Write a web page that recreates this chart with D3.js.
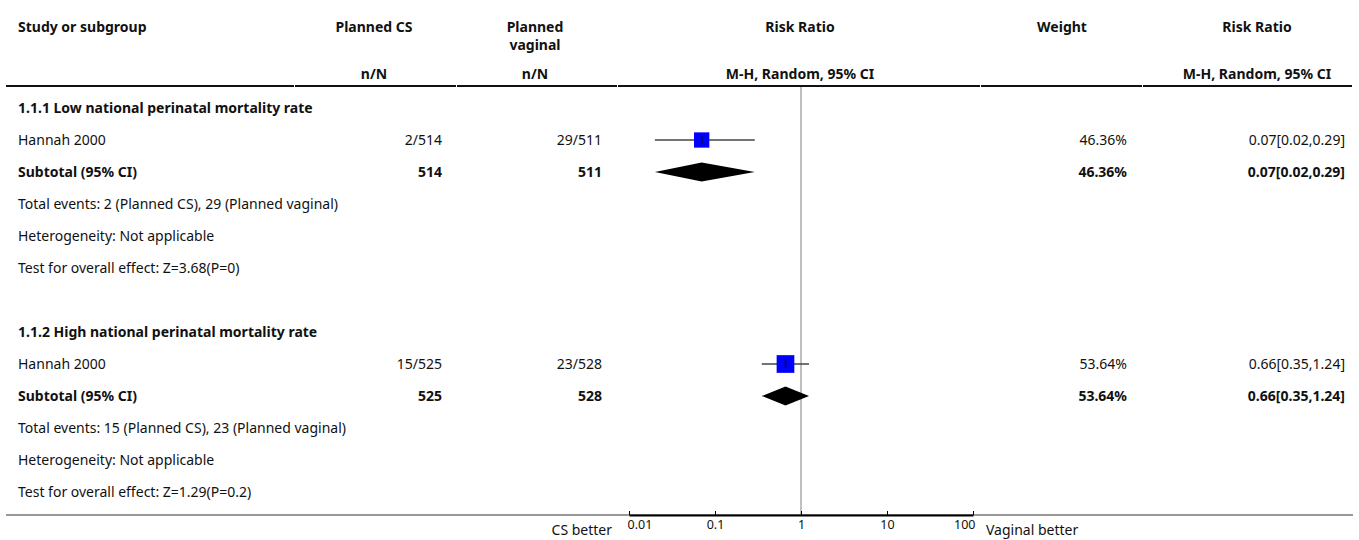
<!DOCTYPE html>
<html>
<head>
<meta charset="utf-8">
<script src="https://cdn.jsdelivr.net/npm/d3@7"></script>
<style>
  body { margin: 0; background: #fff; }
  svg text { font-family: "Source Sans Pro", "Noto Sans", sans-serif; font-size: 14px; fill: #111; }
  .b { font-weight: bold; }
</style>
</head>
<body>
<svg id="chart" width="1359" height="540"></svg>
<script>
// data
const subgroups = ["1.1.1 Low national perinatal mortality rate", "1.1.2 High national perinatal mortality rate"];
const studies = ["Hannah 2000", "Hannah 2000"];
const csEvents = [2, 15];
const csTotal = [514, 525];
const vagEvents = [29, 23];
const vagTotal = [511, 528];
const rr = [0.07, 0.66];
const rrLow = [0.02, 0.35];
const rrHigh = [0.29, 1.24];
const weights = [46.36, 53.64];
const zTests = ["Z=3.68(P=0)", "Z=1.29(P=0.2)"];
const ticks = [0.01, 0.1, 1, 10, 100];

const svg = d3.select("#chart");
const fmt = d3.format(".2f");

const x = d3.scaleLog().domain([0.01, 100]).range([629, 973]);
const row = d3.scaleLinear().domain([0, 1]).range([108, 140]); // row index -> y centre

function txt(xp, yp, s, anchor, bold) {
    svg.append("text")
        .attr("x", xp).attr("y", yp).attr("dy", "0.35em")
        .attr("text-anchor", anchor || "start")
        .attr("class", bold ? "b" : null)
        .text(s);
}

// header
txt(18, 27, "Study or subgroup", "start", true);
txt(374, 27, "Planned CS", "middle", true);
txt(535, 27, "Planned", "middle", true);
txt(535, 45, "vaginal", "middle", true);
txt(800, 27, "Risk Ratio", "middle", true);
txt(1062, 27, "Weight", "middle", true);
txt(1257, 27, "Risk Ratio", "middle", true);
txt(374, 74, "n/N", "middle", true);
txt(535, 74, "n/N", "middle", true);
txt(800, 74, "M-H, Random, 95% CI", "middle", true);
txt(1257, 74, "M-H, Random, 95% CI", "middle", true);

// header rule, drawn per column
const cuts = [6, 295, 457, 618, 981, 1143, 1353];
for (let i = 0; i < cuts.length - 1; i++) {
    svg.append("line")
        .attr("x1", cuts[i]).attr("x2", cuts[i + 1] - 1)
        .attr("y1", 86).attr("y2", 86)
        .attr("stroke", "#111").attr("stroke-width", 2);
}

// line of no effect
svg.append("line")
    .attr("x1", x(1)).attr("x2", x(1))
    .attr("y1", 87).attr("y2", 515)
    .attr("stroke", "#aaa").attr("stroke-width", 1.5);

subgroups.forEach(function(g, i) {
    const r0 = i * 7;
    txt(18, row(r0), g, "start", true);

    // study row
    const ys = row(r0 + 1);
    txt(18, ys, studies[i]);
    txt(442, ys, csEvents[i] + "/" + csTotal[i], "end");
    txt(602, ys, vagEvents[i] + "/" + vagTotal[i], "end");
    txt(1127, ys, fmt(weights[i]) + "%", "end");
    txt(1345, ys, fmt(rr[i]) + "[" + fmt(rrLow[i]) + "," + fmt(rrHigh[i]) + "]", "end");

    svg.append("line")
        .attr("x1", x(rrLow[i])).attr("x2", x(rrHigh[i]))
        .attr("y1", ys).attr("y2", ys)
        .attr("stroke", "#444").attr("stroke-width", 1.5);
    const side = weights[i] * 0.33;
    svg.append("rect")
        .attr("x", x(rr[i]) - side / 2).attr("y", ys - side / 2)
        .attr("width", side).attr("height", side)
        .attr("fill", "#0000ff");
    svg.append("line")
        .attr("x1", x(rr[i])).attr("x2", x(rr[i]))
        .attr("y1", ys - 4).attr("y2", ys + 4)
        .attr("stroke", "#111").attr("stroke-width", 1.5);

    // subtotal row
    const yt = row(r0 + 2);
    txt(18, yt, "Subtotal (95% CI)", "start", true);
    txt(442, yt, csTotal[i], "end", true);
    txt(602, yt, vagTotal[i], "end", true);
    txt(1127, yt, fmt(weights[i]) + "%", "end", true);
    txt(1345, yt, fmt(rr[i]) + "[" + fmt(rrLow[i]) + "," + fmt(rrHigh[i]) + "]", "end", true);
    svg.append("path")
        .attr("d", "M" + x(rrLow[i]) + "," + yt +
            "L" + x(rr[i]) + "," + (yt - 9.5) +
            "L" + x(rrHigh[i]) + "," + yt +
            "L" + x(rr[i]) + "," + (yt + 9.5) + "Z")
        .attr("fill", "#000");

    txt(18, row(r0 + 3), "Total events: " + csEvents[i] + " (Planned CS), " + vagEvents[i] + " (Planned vaginal)");
    txt(18, row(r0 + 4), "Heterogeneity: Not applicable");
    txt(18, row(r0 + 5), "Test for overall effect: " + zTests[i]);
});

// bottom rule and axis
const yAxis = 515;
svg.append("line")
    .attr("x1", 6).attr("x2", 1353)
    .attr("y1", yAxis).attr("y2", yAxis)
    .attr("stroke", "#333").attr("stroke-width", 1);

const axis = svg.append("g")
    .attr("transform", "translate(0," + yAxis + ")")
    .call(d3.axisBottom(x).tickValues(ticks).tickFormat(d3.format("")).tickSizeInner(-4).tickSizeOuter(0).tickPadding(5));
axis.select(".domain").attr("stroke", "#000").attr("stroke-width", 2);
axis.selectAll(".tick line").attr("stroke", "#000");
axis.selectAll(".tick text").style("font-size", "12.5px");
axis.selectAll(".tick text").filter(d => d === ticks[0]).attr("text-anchor", "start").attr("dx", "-2");
axis.selectAll(".tick text").filter(d => d === ticks[ticks.length - 1]).attr("text-anchor", "end").attr("dx", "2");

svg.append("text").attr("x", 612).attr("y", 535).attr("text-anchor", "end").text("CS better");
svg.append("text").attr("x", 986).attr("y", 535).text("Vaginal better");
</script>
</body>
</html>
